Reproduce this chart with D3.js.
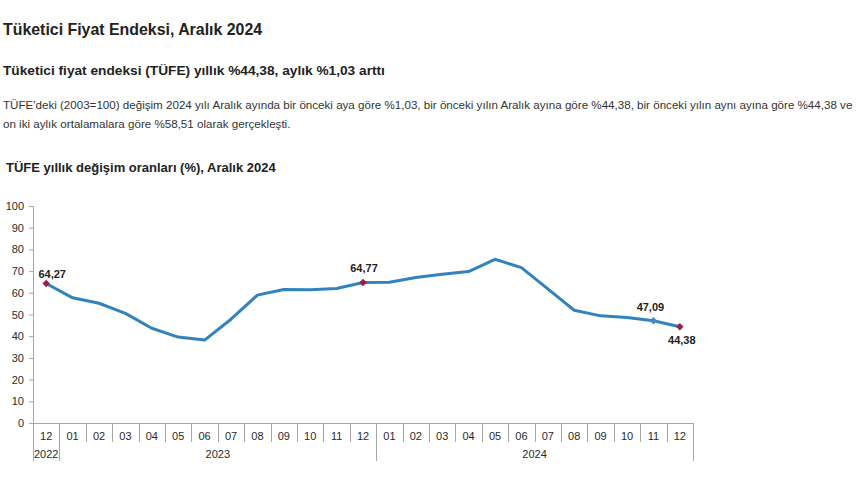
<!DOCTYPE html>
<html><head><meta charset="utf-8">
<script src="https://cdn.jsdelivr.net/npm/d3@7"></script>
<style>
html,body{margin:0;padding:0;background:#fff;}
svg{display:block;font-family:Arial,"Liberation Sans",sans-serif;}
</style></head>
<body><svg id="c" width="860" height="504"></svg>
<script>
const months = ["12","01","02","03","04","05","06","07","08","09","10","11","12","01","02","03","04","05","06","07","08","09","10","11","12"];
const years = ["2022","2023","2023","2023","2023","2023","2023","2023","2023","2023","2023","2023","2023","2024","2024","2024","2024","2024","2024","2024","2024","2024","2024","2024","2024"];
const values = [64.27,57.68,55.18,50.51,43.68,39.59,38.21,47.83,58.94,61.53,61.36,61.98,64.77,64.86,67.07,68.50,69.80,75.45,71.60,61.78,51.97,49.38,48.58,47.09,44.38];
const yTicks = [0,10,20,30,40,50,60,70,80,90,100];
const labelIdx = [0,12,23,24];
const labelSide = ["above","above","above","below"];
const labelDx = [6,1,-3,2];
const markerColor = ["#9b2040","#9b2040","#4a86c0","#9b2040"];

const title = "Tüketici Fiyat Endeksi, Aralık 2024";
const subtitle = "Tüketici fiyat endeksi (TÜFE) yıllık %44,38, aylık %1,03 arttı";
const para = ["TÜFE'deki (2003=100) değişim 2024 yılı Aralık ayında bir önceki aya göre %1,03, bir önceki yılın Aralık ayına göre %44,38, bir önceki yılın aynı ayına göre %44,38 ve",
              "on iki aylık ortalamalara göre %58,51 olarak gerçekleşti."];
const chartTitle = "TÜFE yıllık değişim oranları (%), Aralık 2024";

const svg = d3.select("#c");
const ink = "#222";
svg.append("text").attr("x",3).attr("y",35).attr("font-size",15.9).attr("font-weight","bold").attr("fill",ink).text(title);
svg.append("text").attr("x",3).attr("y",75).attr("font-size",13.7).attr("font-weight","bold").attr("fill",ink).text(subtitle);
para.forEach((p,i)=>svg.append("text").attr("x",3).attr("y",109+i*18.5).attr("font-size",11.6).attr("fill","#333").text(p));
svg.append("text").attr("x",6).attr("y",172).attr("font-size",13).attr("font-weight","bold").attr("fill",ink).text(chartTitle);

const x0 = 33, x1 = 693, yBase = 423, yTop = 206;
const x = d3.scaleBand().domain(d3.range(values.length)).range([x0,x1]).padding(0);
const y = d3.scaleLinear().domain([0,100]).range([yBase,yTop]);
const cx = i => x(i)+x.bandwidth()/2;
const axisCol = "#a6a6a6";
const tickInk = "#2a2a2a";
const fmt = v => d3.format(".2f")(v).replace(".",",");

// Y axis
const ya = svg.append("g").attr("transform",`translate(${x0},0)`)
  .call(d3.axisLeft(y).tickValues(yTicks).tickSize(4).tickPadding(5));
ya.select(".domain").attr("stroke",axisCol).attr("stroke-width",1);
ya.selectAll(".tick line").attr("stroke",axisCol);
ya.selectAll(".tick text").attr("font-size",11).attr("fill",tickInk).attr("font-family","Arial, 'Liberation Sans', sans-serif");

// X axis base line
svg.append("line").attr("x1",x0).attr("x2",x1).attr("y1",yBase+0.5).attr("y2",yBase+0.5).attr("stroke",axisCol);
// month separators
const g = svg.append("g");
d3.range(values.length+1).forEach(i=>{
  const xx = i<values.length ? x(i) : x1;
  const isYear = i===0 || i===values.length || years[i]!==years[i-1];
  g.append("line").attr("x1",Math.round(xx)+0.5).attr("x2",Math.round(xx)+0.5)
   .attr("y1",yBase).attr("y2",isYear?461:442).attr("stroke",axisCol);
});
months.forEach((m,i)=>g.append("text").attr("x",cx(i)).attr("y",440).attr("text-anchor","middle")
  .attr("font-size",11).attr("fill",tickInk).text(m));
const yearNames = Array.from(new Set(years));
yearNames.forEach(yr=>{
  const idx = years.map((v,i)=>v===yr?i:-1).filter(i=>i>=0);
  const a = x(idx[0]), b = x(idx[idx.length-1])+x.bandwidth();
  g.append("text").attr("x",(a+b)/2).attr("y",458).attr("text-anchor","middle")
   .attr("font-size",11).attr("fill",tickInk).text(yr);
});

// Line
const line = d3.line().x((d,i)=>cx(i)).y(d=>y(d));
svg.append("path").datum(values).attr("d",line).attr("fill","none")
  .attr("stroke","#3282bd").attr("stroke-width",3).attr("stroke-linejoin","round");

// markers and labels
labelIdx.forEach((k,j)=>{
  svg.append("path").attr("d",d3.symbol().type(d3.symbolSquare).size(28)())
    .attr("transform",`translate(${cx(k)},${y(values[k])}) rotate(45)`).attr("fill",markerColor[j]);
  const dy = labelSide[j]==="above" ? (j===0?-6:-10) : 17;
  svg.append("text").attr("x",cx(k)+labelDx[j]).attr("y",y(values[k])+dy)
    .attr("text-anchor","middle").attr("font-size",11).attr("font-weight","bold").attr("fill",ink).text(fmt(values[k]));
});
</script></body></html>
